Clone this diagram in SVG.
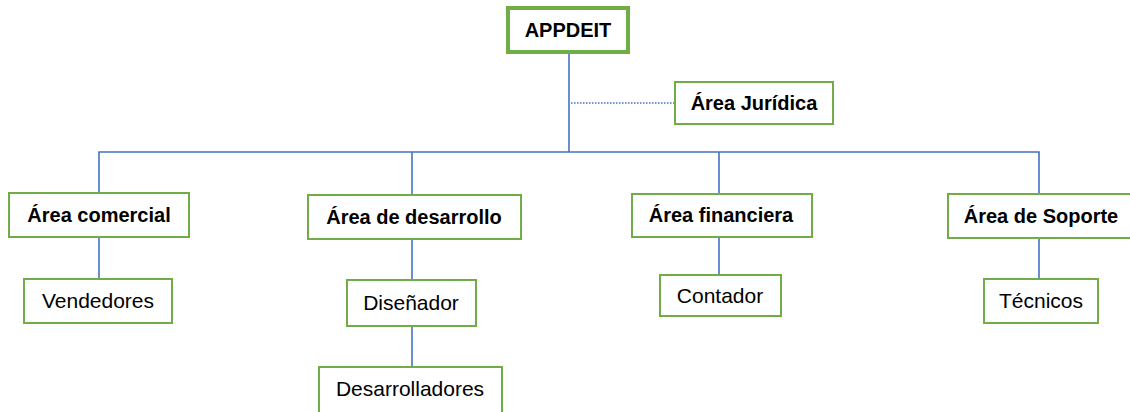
<svg xmlns="http://www.w3.org/2000/svg" width="1130" height="412" viewBox="0 0 1130 412">
<style>
.box{fill:#fff;stroke:#70AD47;stroke-width:2}
.main{fill:#fff;stroke:#70AD47;stroke-width:4}
.ln{stroke:#4472C4;stroke-width:1.6;fill:none}
.dot{stroke:#4472C4;stroke-width:1.6;stroke-dasharray:1.5 1.5;fill:none}
.b{font-family:"Liberation Sans",Arial,sans-serif;font-weight:bold;font-size:20px;fill:#000;text-anchor:middle}
.r{font-family:"Liberation Sans",Arial,sans-serif;font-size:21px;fill:#000;text-anchor:middle}
</style>
<rect width="1130" height="412" fill="#fff"/>
<g id="connectors">
<line class="ln" x1="569" y1="54" x2="569" y2="152"/>
<line class="dot" x1="571" y1="103" x2="674" y2="103"/>
<polyline class="ln" points="99,192 99,152 1039,152 1039,193"/>
<line class="ln" x1="412" y1="152" x2="412" y2="194"/>
<line class="ln" x1="719" y1="152" x2="719" y2="193"/>
<line class="ln" x1="99" y1="237" x2="99" y2="278"/>
<line class="ln" x1="412" y1="239" x2="412" y2="279"/>
<line class="ln" x1="412" y1="327" x2="412" y2="366"/>
<line class="ln" x1="719" y1="237" x2="719" y2="274"/>
<line class="ln" x1="1039" y1="238" x2="1039" y2="278"/>
</g>
<g id="appdeit"><rect class="main" x="508" y="8" width="120" height="44"/><text class="b" x="568" y="37" font-size="19">APPDEIT</text></g>
<g id="juridica"><rect class="box" x="675" y="82" width="158" height="42"/><text class="b" x="754" y="110">Área Jurídica</text></g>
<g id="comercial"><rect class="box" x="9" y="193" width="180" height="44"/><text class="b" x="99" y="222">Área comercial</text></g>
<g id="desarrollo"><rect class="box" x="308" y="195" width="213" height="44"/><text class="b" x="414" y="224">Área de desarrollo</text></g>
<g id="financiera"><rect class="box" x="632" y="194" width="180" height="43"/><text class="b" x="721" y="222">Área financiera</text></g>
<g id="soporte"><rect class="box" x="948" y="194" width="186" height="44"/><text class="b" x="1041" y="223">Área de Soporte</text></g>
<g id="vendedores"><rect class="box" x="24" y="279" width="148" height="44"/><text class="r" x="98" y="308">Vendedores</text></g>
<g id="disenador"><rect class="box" x="347" y="280" width="129" height="46"/><text class="r" x="411" y="310">Diseñador</text></g>
<g id="desarrolladores"><rect class="box" x="319" y="367" width="183" height="50"/><text class="r" x="410" y="396">Desarrolladores</text></g>
<g id="contador"><rect class="box" x="660" y="275" width="121" height="41"/><text class="r" x="720" y="303">Contador</text></g>
<g id="tecnicos"><rect class="box" x="984" y="279" width="114" height="44"/><text class="r" x="1041" y="308">Técnicos</text></g>
</svg>
